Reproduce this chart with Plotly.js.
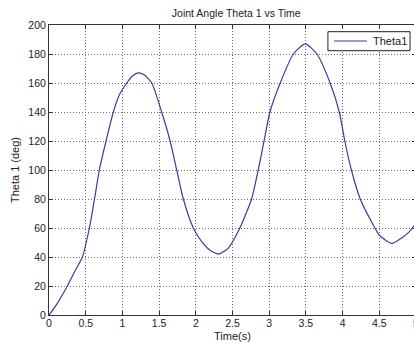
<!DOCTYPE html>
<html>
<head>
<meta charset="utf-8">
<script src="https://cdn.plot.ly/plotly-3.0.1.min.js"></script>
<style>
html, body { margin: 0; padding: 0; overflow: hidden; background: #fff; }
#chart { width: 420px; height: 343px; }
</style>
</head>
<body>
<div id="chart"></div>
<script>
const time = [0, 0.1, 0.25, 0.35, 0.455, 0.55, 0.62, 0.686, 0.777, 0.877, 0.96, 1.06, 1.14, 1.217, 1.3, 1.40, 1.535, 1.65, 1.74, 1.83, 1.966, 2.08, 2.19, 2.31, 2.44, 2.60, 2.76, 2.85, 2.93, 3.01, 3.15, 3.33, 3.49, 3.65, 3.83, 3.955, 4.03, 4.12, 4.24, 4.44, 4.5, 4.67, 4.8, 4.9, 5.0];
const theta1 = [0, 7, 20, 30, 40, 60, 80, 100, 120, 140, 152, 160, 165, 167, 165.5, 160, 140, 120, 100, 80, 60, 50.6, 44.8, 42, 46, 60, 80, 100, 120, 140, 160, 180, 187, 180, 160, 140, 120, 100, 80, 60, 55, 49.4, 53, 57, 63];
const xTicks = [0, 0.5, 1, 1.5, 2, 2.5, 3, 3.5, 4, 4.5, 5];
const xTickLabels = ['0', '0.5', '1', '1.5', '2', '2.5', '3', '3.5', '4', '4.5', '5'];
const yTicks = [0, 20, 40, 60, 80, 100, 120, 140, 160, 180, 200];
const seriesName = 'Theta1';

const fam = 'Liberation Sans, Arial, sans-serif';
const font = { family: fam, size: 11, color: '#222' };
const tickFont = { family: fam, size: 10.5, color: '#222' };
const axisCommon = {
  showline: true, linecolor: '#333', linewidth: 1, mirror: 'ticks',
  ticks: 'inside', ticklen: 4, tickcolor: '#333',
  showgrid: true, gridcolor: '#6a6a6a', griddash: '1px,2px', gridwidth: 1,
  zeroline: false, tickfont: tickFont
};

Plotly.newPlot('chart', [{
  x: time, y: theta1, type: 'scatter', mode: 'lines', name: seriesName,
  line: { color: '#3c3c9c', width: 1.2, shape: 'spline', smoothing: 0.6 }
}], {
  width: 420, height: 343,
  margin: { l: 49, r: 4, t: 25, b: 28 },
  paper_bgcolor: '#fff', plot_bgcolor: '#fff',
  font: font,
  title: { text: 'Joint Angle Theta 1 vs Time', font: { family: fam, size: 10.5, color: '#222' }, x: 0.5625, xanchor: 'center', y: 0.96, yanchor: 'middle' },
  xaxis: Object.assign({}, axisCommon, {
    range: [0, 5], tickvals: xTicks, ticktext: xTickLabels, ticklabelstandoff: -2
  }),
  yaxis: Object.assign({}, axisCommon, {
    range: [0, 200], tickvals: yTicks,
    title: { text: 'Theta 1 (deg)', font: font, standoff: 6 }
  }),
  showlegend: false,
  shapes: [
    { type: 'rect', xref: 'paper', yref: 'paper', x0: 0.760, x1: 0.9837, y0: 0.9114, y1: 0.9769,
      line: { color: '#222', width: 1 }, fillcolor: '#fff', layer: 'above' },
    { type: 'line', xref: 'paper', yref: 'paper', x0: 0.7766, x1: 0.8665, y0: 0.9448, y1: 0.9448,
      line: { color: '#3c3c9c', width: 1.2 }, layer: 'above' }
  ],
  annotations: [
    { text: seriesName, xref: 'paper', yref: 'paper', x: 0.8774, y: 0.9448, xanchor: 'left', yanchor: 'middle',
      showarrow: false, font: font },
    { text: 'Time(s)', xref: 'paper', yref: 'paper', x: 0.5, y: -0.0966, xanchor: 'center', yanchor: 'bottom',
      showarrow: false, font: font, borderpad: 0 }
  ]
}, { displayModeBar: false, staticPlot: true });
</script>
</body>
</html>
